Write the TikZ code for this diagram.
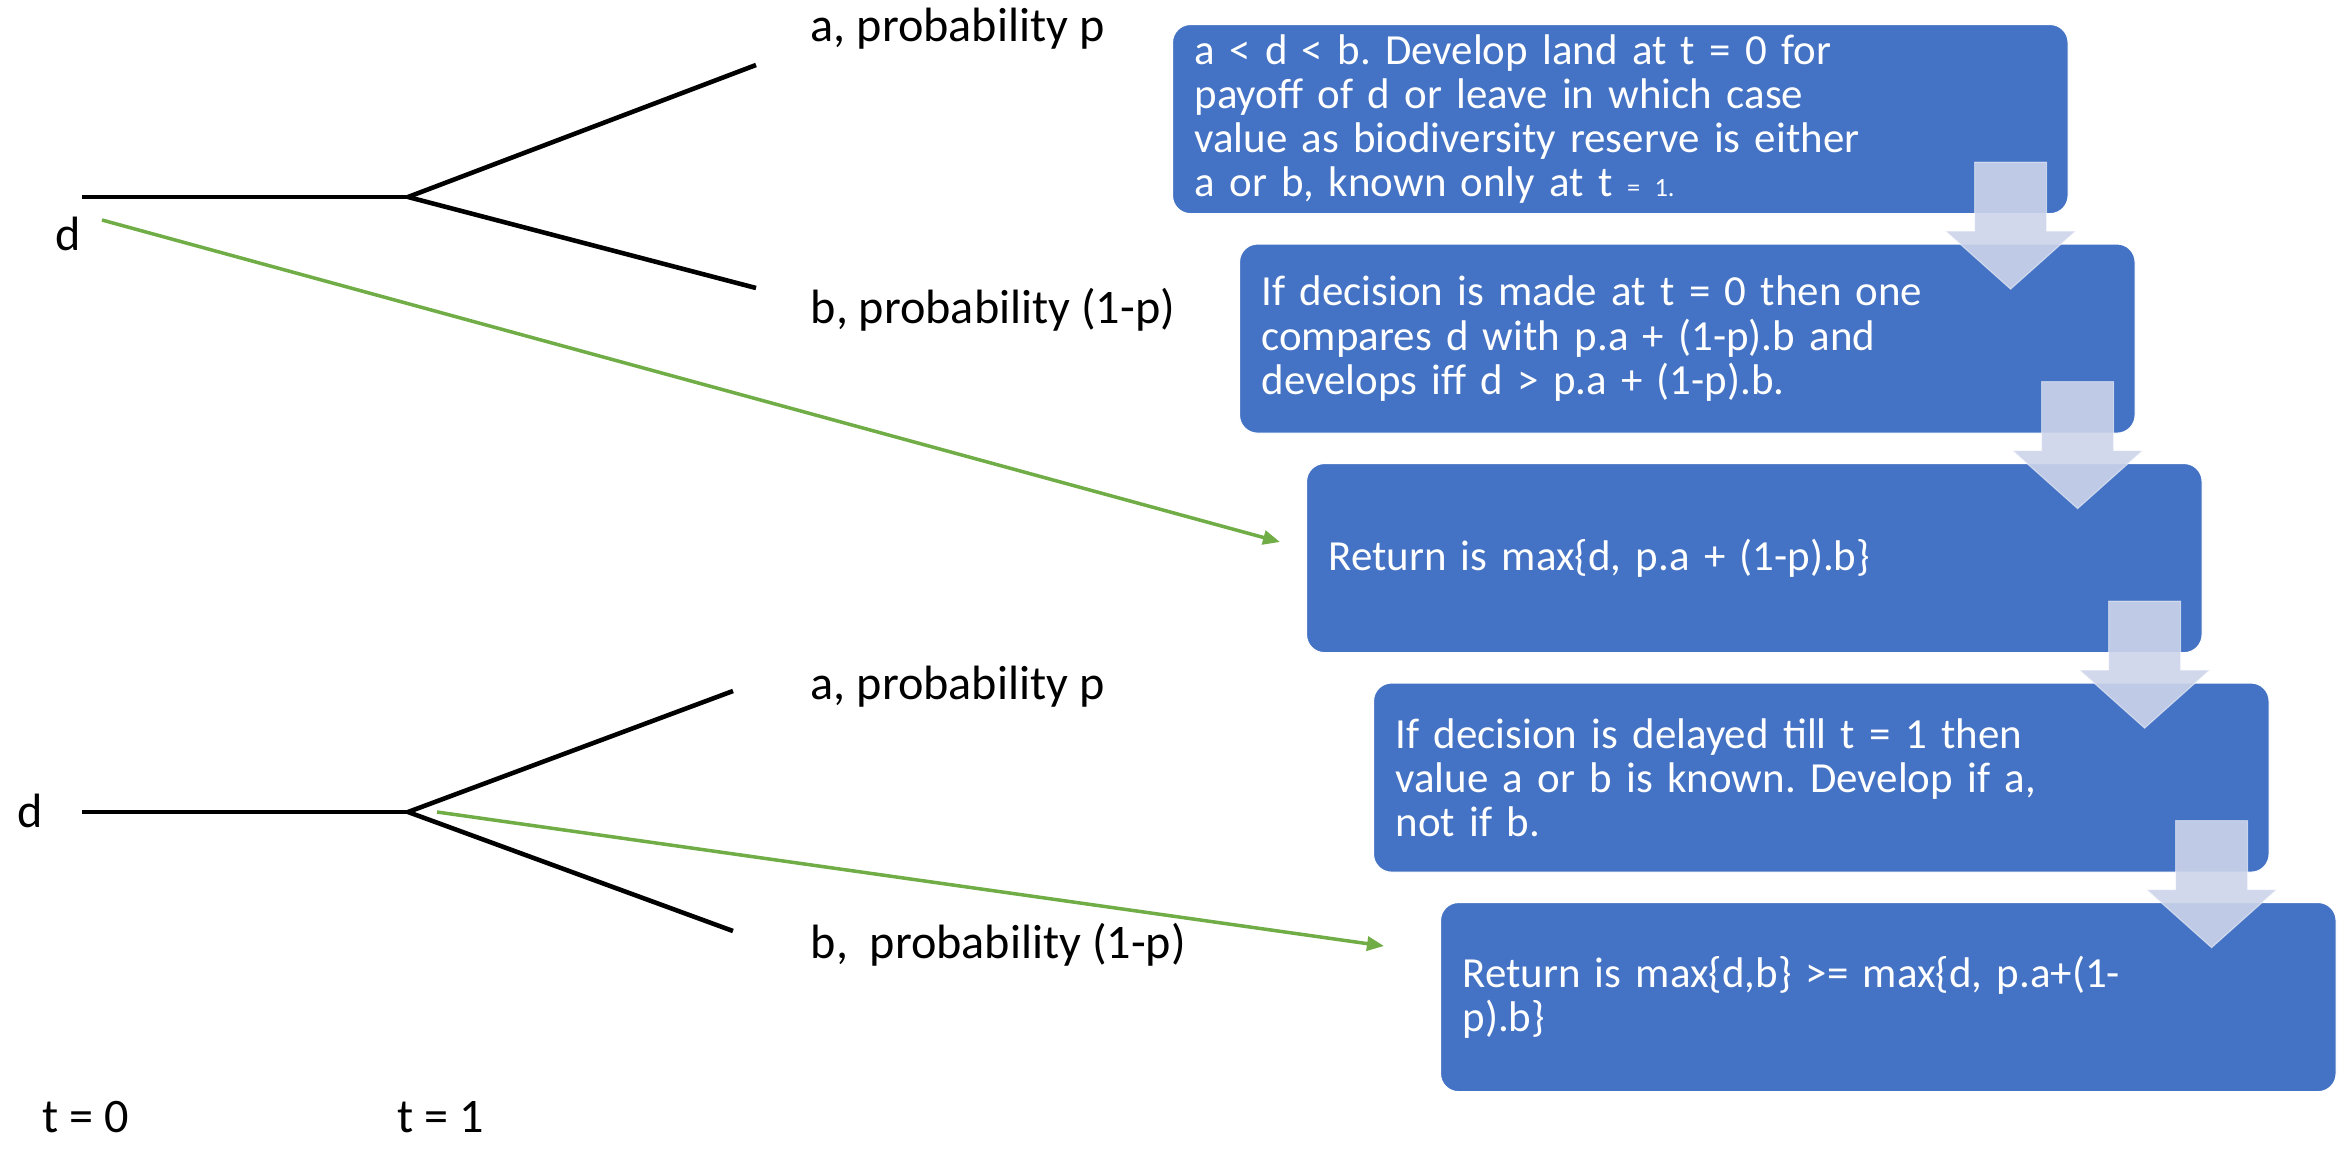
\documentclass[tikz,border=0pt]{standalone}
\usepackage{fontspec}
\setmainfont{Carlito}
\usetikzlibrary{arrows.meta}

\definecolor{boxblue}{RGB}{68,114,196}
\definecolor{arrowtint}{RGB}{205,212,234}
\definecolor{pathgreen}{RGB}{112,173,71}
\frenchspacing

\begin{document}
\begin{tikzpicture}
    [x=0.01cm,y=-0.01cm,
     branch/.style={black,line width=1.3pt},
     route/.style={pathgreen,line width=1pt,-{Triangle[length=0.17cm,width=0.14cm]}},
     lbl/.style={anchor=base west,inner sep=0,font=\fontsize{13.7pt}{16pt}\selectfont},
     stepbox/.style={anchor=north west,fill=boxblue,draw=white,line width=0.3pt,
       rounded corners=0.18cm,minimum width=8.95cm,minimum height=1.89cm,
       text width=8.51cm,inner xsep=0.22cm,inner ysep=0,align=left,text=white,
       font=\fontsize{12.2pt}{12.6pt}\selectfont},
     downarrow/.style={fill=arrowtint,fill opacity=0.9,draw=white,draw opacity=0.5,line width=0.3pt}]
    \useasboundingbox (0,0) rectangle (2346,1170);

    % upper tree: decide at t = 0
    \coordinate (r1) at (82,197);
    \coordinate (j1) at (408,197);
    \coordinate (u1) at (756,65);
    \coordinate (l1) at (756,288);
    \draw[branch] (r1) -- (j1);
    \draw[branch] (j1) -- (u1);
    \draw[branch] (j1) -- (l1);
    \node[lbl] (d1) at (55,251) {d};
    \node[lbl] (pa1) at (810,42) {a, probability p};
    \node[lbl] (pb1) at (810,323) {b, probability (1-p)};

    % lower tree: wait till t = 1
    \coordinate (r2) at (82,812);
    \coordinate (j2) at (408,812);
    \coordinate (u2) at (733,691);
    \coordinate (l2) at (733,931);
    \draw[branch] (r2) -- (j2);
    \draw[branch] (j2) -- (u2);
    \draw[branch] (j2) -- (l2);
    \node[lbl] (d2) at (17,827) {d};
    \node[lbl] (pa2) at (810,699) {a, probability p};
    \node[lbl] (pb2) at (810,958) {b,\ \ probability (1-p)};

    \node[lbl] (t0) at (42,1132) {t = 0};
    \node[lbl] (t1) at (397,1132) {t = 1};

    % the step boxes
    \node[stepbox] (b1) at (1172,24) {a < d < b. Develop land at t = 0 for\\
      payoff of d or leave in which case\\
      value as biodiversity reserve is either\\
      a or b, known only at t {\fontsize{7.5pt}{9pt}\selectfont = 1.}};
    \node[stepbox] (b2) at (1239,243.5) {If decision is made at t = 0 then one\\
      compares d with p.a + (1-p).b and\\
      develops iff d > p.a + (1-p).b.};
    \node[stepbox] (b3) at (1306,463) {Return is max\{d, p.a + (1-p).b\}};
    \node[stepbox] (b4) at (1373,682.5) {If decision is delayed till t = 1 then\\
      value a or b is known. Develop if a,\\
      not if b.};
    \node[stepbox] (b5) at (1440,902) {Return is max\{d,b\} >= max\{d, p.a+(1-\\
      p).b\}};

    \foreach \i in {1,...,4}
      \filldraw[downarrow,shift={(b\i.south east)}]
        (-94,-52) -- (-22,-52) -- (-22,17) -- (7,17) -- (-58,75) -- (-123,17) -- (-94,17) -- cycle;

    % green connectors
    \coordinate (g1) at (102,220);
    \coordinate (e1) at (1280,542);
    \coordinate (g2) at (437,812);
    \coordinate (e2) at (1384,946);
    \draw[route] (g1) -- (e1);
    \draw[route] (g2) -- (e2);
  \end{tikzpicture}
\end{document}
